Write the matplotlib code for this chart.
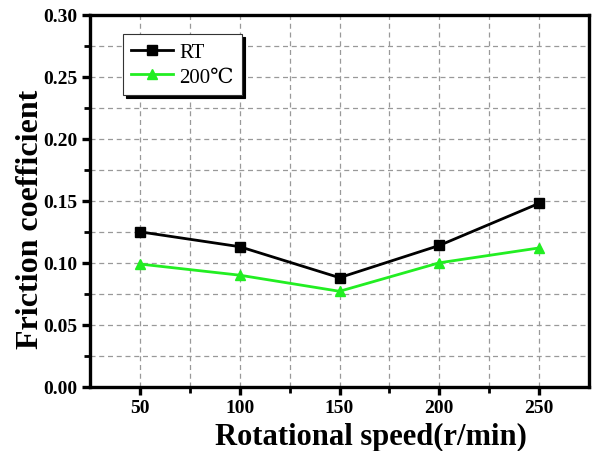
import matplotlib
matplotlib.use("Agg")
import matplotlib.pyplot as plt
from matplotlib.ticker import MultipleLocator, FixedLocator

speed = [50, 100, 150, 200, 250]
rt = [0.125, 0.113, 0.088, 0.114, 0.148]
t200 = [0.099, 0.090, 0.077, 0.100, 0.112]
labels = ["RT", "200℃"]

serif = ["Liberation Serif", "DejaVu Serif"]
plt.rcParams["font.family"] = serif

fig = plt.figure(figsize=(5.92, 4.52), dpi=100)
ax = fig.add_axes([90/592, 1-387.7/452, 499/592, 371.7/452])

ax.plot(speed, rt, color="black", lw=2, marker="s", ms=6.5, label=labels[0], zorder=3)
ax.plot(speed, t200, color="#22ee22", lw=2, marker="^", ms=7, label=labels[1], zorder=3)

ax.set_xlim(25, 275)
ax.set_ylim(0, 0.30)
ax.xaxis.set_major_locator(FixedLocator([50, 100, 150, 200, 250]))
ax.xaxis.set_minor_locator(FixedLocator([75, 125, 175, 225]))
ax.yaxis.set_major_locator(MultipleLocator(0.05))
ax.yaxis.set_minor_locator(MultipleLocator(0.025))
ax.yaxis.set_major_formatter(matplotlib.ticker.FormatStrFormatter("%.2f"))

ax.grid(True, which="both", color="#999999", ls=(0, (4, 3)), lw=0.9, zorder=0)

for s in ax.spines.values():
    s.set_linewidth(2.4)
ax.tick_params(which="major", direction="out", length=6, width=2.4, labelsize=14, pad=3)
ax.tick_params(which="minor", direction="out", length=4, width=2.0)
for lab in ax.get_xticklabels() + ax.get_yticklabels():
    lab.set_fontweight("bold")

ax.set_xlabel("Rotational speed(r/min)", fontsize=22, fontweight="bold")
ax.set_ylabel("Friction coefficient", fontsize=23, fontweight="bold")
ax.xaxis.set_label_coords(0.563, -0.095)
ax.yaxis.set_label_coords(-0.090, 0.452)

leg = ax.legend(loc="upper left", bbox_to_anchor=((123-90)/499, 1-(35-16)/371.7),
                borderaxespad=0, fontsize=15, handlelength=2.0, fancybox=False,
                framealpha=1, edgecolor="#333333",
                shadow={"color": "black", "alpha": 1},
                labelspacing=0.25, borderpad=0.4, handletextpad=0.3)
leg.get_frame().set_linewidth(0.8)

fig.savefig("out.png", dpi=100)
